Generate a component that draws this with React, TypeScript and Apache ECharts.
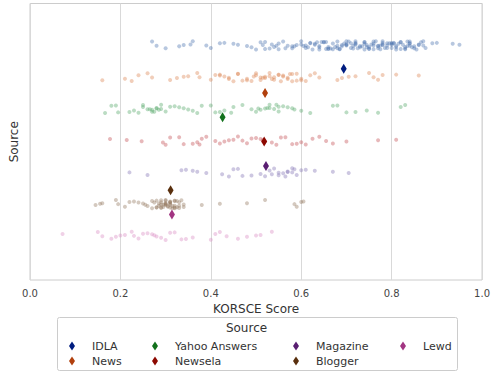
import React, { useEffect, useRef } from "react";
import * as echarts from "echarts";

const SOURCES = ["IDLA", "News", "Yahoo Answers", "Newsela", "Magazine", "Blogger", "Lewd"];
const STRIP_COLORS = ["#4c72b0", "#dd8452", "#55a868", "#c44e52", "#8172b3", "#937860", "#da8bc3"];
const MEAN_COLORS = ["#001c7f", "#b1400d", "#12711c", "#8c0800", "#591e71", "#592f0d", "#a23582"];

const IDLA = [0.27, 0.28, 0.30, 0.33, 0.34, 0.355, 0.36, 0.39, 0.40, 0.42, 0.43, 0.45, 0.46, 0.48, 0.49, 0.50,
  0.51, 0.52, 0.52, 0.53, 0.54, 0.55, 0.55, 0.56, 0.57, 0.58, 0.58, 0.59, 0.60, 0.60, 0.61, 0.61, 0.62, 0.62, 0.63, 0.63,
  0.64, 0.64, 0.64, 0.65, 0.65, 0.66, 0.66, 0.66, 0.67, 0.67, 0.68, 0.68, 0.68, 0.69, 0.69, 0.70, 0.70, 0.70, 0.71, 0.71,
  0.72, 0.72, 0.72, 0.73, 0.73, 0.74, 0.74, 0.74, 0.75, 0.75, 0.75, 0.76, 0.76, 0.76, 0.77, 0.77, 0.77, 0.78, 0.78, 0.78,
  0.79, 0.79, 0.79, 0.80, 0.80, 0.80, 0.81, 0.81, 0.81, 0.82, 0.82, 0.82, 0.83, 0.83, 0.83, 0.84, 0.84, 0.84, 0.85, 0.85,
  0.86, 0.86, 0.87, 0.87, 0.875, 0.89, 0.90, 0.935, 0.95,
  0.605, 0.615, 0.625, 0.635, 0.645, 0.655, 0.665, 0.675, 0.685, 0.695, 0.705, 0.715, 0.725, 0.735, 0.745, 0.755,
  0.765, 0.775, 0.785, 0.795, 0.805, 0.815, 0.825, 0.835, 0.845, 0.855, 0.865, 0.655, 0.685, 0.715, 0.745, 0.775,
  0.805, 0.835, 0.545, 0.565, 0.585, 0.515, 0.535, 0.72, 0.76, 0.80, 0.84, 0.78, 0.74, 0.70];
const NEWS = [0.16, 0.21, 0.225, 0.24, 0.26, 0.27, 0.31, 0.325, 0.34, 0.35, 0.37, 0.375,
  0.40, 0.41, 0.42, 0.42, 0.43, 0.44, 0.44, 0.45, 0.46, 0.46, 0.47, 0.48, 0.48, 0.49, 0.50, 0.50, 0.51, 0.51, 0.52, 0.52,
  0.53, 0.53, 0.54, 0.54, 0.55, 0.55, 0.56, 0.56, 0.57, 0.57, 0.58, 0.58, 0.59, 0.59, 0.60, 0.60, 0.61, 0.62, 0.63, 0.64,
  0.68, 0.69, 0.705, 0.72, 0.75, 0.76, 0.77, 0.78, 0.81, 0.86, 0.495, 0.515, 0.535, 0.555, 0.575];
const YAHOO = [0.166, 0.18, 0.19, 0.195, 0.22, 0.23, 0.24, 0.25, 0.25, 0.26, 0.27, 0.27, 0.28, 0.28, 0.29, 0.29, 0.30,
  0.31, 0.32, 0.33, 0.34, 0.35, 0.36, 0.37, 0.38, 0.40, 0.41, 0.42, 0.43, 0.445, 0.45, 0.47, 0.49, 0.50, 0.51, 0.52, 0.53,
  0.53, 0.54, 0.55, 0.55, 0.56, 0.57, 0.58, 0.585, 0.60, 0.62, 0.67, 0.68, 0.70, 0.72, 0.745, 0.77, 0.82, 0.83,
  0.265, 0.275, 0.285, 0.505, 0.525, 0.545];
const NEWSELA = [0.177, 0.214, 0.247, 0.294, 0.30, 0.31, 0.33, 0.34, 0.36, 0.37, 0.375, 0.38, 0.39, 0.41, 0.42, 0.43,
  0.44, 0.45, 0.46, 0.47, 0.48, 0.49, 0.50, 0.51, 0.515, 0.52, 0.535, 0.545, 0.555, 0.565, 0.58, 0.59, 0.60, 0.61, 0.625,
  0.64, 0.655, 0.67, 0.70, 0.77, 0.81];
const MAGAZINE = [0.22, 0.26, 0.335, 0.345, 0.36, 0.37, 0.39, 0.425, 0.44, 0.45, 0.46, 0.47, 0.49, 0.51, 0.52, 0.53,
  0.54, 0.55, 0.55, 0.56, 0.57, 0.57, 0.58, 0.58, 0.59, 0.60, 0.61, 0.63, 0.67, 0.705, 0.535, 0.565, 0.585];
const BLOGGER = [0.145, 0.155, 0.16, 0.19, 0.195, 0.21, 0.22, 0.23, 0.24, 0.25, 0.255, 0.26, 0.27, 0.27, 0.28, 0.28,
  0.28, 0.285, 0.29, 0.29, 0.29, 0.29, 0.295, 0.30, 0.30, 0.30, 0.30, 0.30, 0.305, 0.31, 0.31, 0.31, 0.31, 0.31, 0.315,
  0.32, 0.32, 0.32, 0.32, 0.325, 0.33, 0.33, 0.33, 0.335, 0.34, 0.34, 0.38, 0.42, 0.48, 0.52, 0.585, 0.59, 0.60, 0.605,
  0.275, 0.285, 0.295, 0.305, 0.315, 0.325, 0.3, 0.31, 0.29, 0.32];
const LEWD = [0.072, 0.15, 0.16, 0.18, 0.19, 0.20, 0.21, 0.225, 0.23, 0.24, 0.25, 0.26, 0.27, 0.275, 0.28, 0.29, 0.30,
  0.31, 0.32, 0.335, 0.345, 0.36, 0.40, 0.41, 0.42, 0.435, 0.46, 0.48, 0.50, 0.51, 0.535];
const SCORES = [IDLA, NEWS, YAHOO, NEWSELA, MAGAZINE, BLOGGER, LEWD];
const MEANS = [0.694, 0.52, 0.426, 0.518, 0.522, 0.311, 0.314];

// fixed vertical jitter pattern (layout only)
const JITTER = [-0.12, 0.06, -0.03, 0.1, -0.08, 0.01, 0.13, -0.13, 0.05, -0.05, 0.09, -0.1, 0.0, 0.12, -0.02, 0.03, -0.11, 0.08, -0.06, 0.02, -0.01, 0.11, -0.07];
const DODGE = 0.766;

const FONT = "DejaVu Sans";

export default function App() {
  const ref = useRef<HTMLDivElement>(null);
  useEffect(() => {
    if (!ref.current) return;
    const chart = echarts.init(ref.current, null, { renderer: "svg" });
    const series: any[] = [];
    SOURCES.forEach((s, i) => {
      series.push({
        name: s + " points",
        type: "scatter",
        symbol: "circle",
        symbolSize: 4,
        itemStyle: { color: STRIP_COLORS[i], opacity: 0.4 },
        z: 2,
        data: SCORES[i].map((v, k) => [v, i + JITTER[(k * 5 + i * 3) % JITTER.length]]),
      });
    });
    SOURCES.forEach((s, i) => {
      series.push({
        name: s,
        type: "scatter",
        symbol: "diamond",
        symbolSize: [6, 10],
        itemStyle: { color: MEAN_COLORS[i], opacity: 1 },
        z: 5,
        data: [[MEANS[i], 3.03 + (i - 3) * DODGE]],
      });
    });
    const cols = [[0, 1], [2, 3], [4, 5], [6]];
    const colX = [72, 155, 296, 403];
    const legends = cols.map((c, j) => ({
      orient: "vertical",
      left: colX[j] - 3,
      top: 339.5,
      padding: 0,
      itemWidth: 6,
      itemHeight: 9,
      itemGap: 2,
      icon: "diamond",
      selectedMode: false,
      textStyle: { fontFamily: FONT, fontSize: 11, color: "#333", lineHeight: 13, padding: [0, 0, 0, 12] },
      data: c.map((k) => SOURCES[k]),
    }));
    chart.setOption({
      animation: false,
      backgroundColor: "#fff",
      grid: {
        left: 30, right: 9, top: 3.5, bottom: 95,
        show: true, borderColor: "#cccccc", borderWidth: 1, backgroundColor: "transparent",
      },
      xAxis: {
        type: "value", min: 0, max: 1, interval: 0.2,
        name: "KORSCE Score", nameLocation: "middle", nameGap: 21,
        nameTextStyle: { fontFamily: FONT, fontSize: 12, color: "#333" },
        axisLine: { show: false }, axisTick: { show: false },
        axisLabel: { fontFamily: FONT, fontSize: 10, color: "#444", margin: 8, formatter: (v: number) => v.toFixed(1) },
        splitLine: { show: true, lineStyle: { color: "#d9d9d9", width: 1 } },
      },
      yAxis: {
        type: "value", min: -1.32, max: 7.39, inverse: true,
        name: "Source", nameLocation: "middle", nameGap: 10,
        nameTextStyle: { fontFamily: FONT, fontSize: 12, color: "#333" },
        axisLine: { show: false }, axisTick: { show: false }, axisLabel: { show: false },
        splitLine: { show: false },
      },
      legend: legends,
      graphic: [
        {
          type: "rect", left: 57, top: 317, z: -1,
          shape: { width: 400, height: 53, r: 2 },
          style: { fill: "#fff", stroke: "#cccccc", lineWidth: 1 },
        },
        {
          type: "text", left: "center", top: 322,
          style: { text: "Source", font: `12px '${FONT}'`, fill: "#333" },
        },
      ],
      series,
    });
    return () => chart.dispose();
  }, []);
  return <div ref={ref} style={{ position: "fixed", left: 0, top: 0, width: 493, height: 375 }} />;
}
